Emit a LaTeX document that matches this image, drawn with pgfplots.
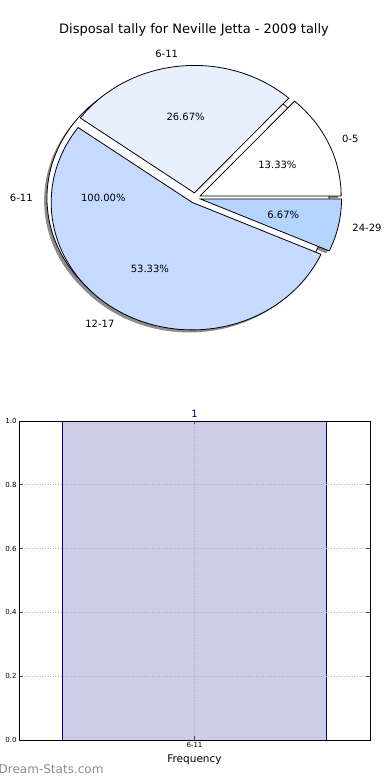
\documentclass[border=0pt]{standalone}
\usepackage{pgfplots}
\pgfplotsset{compat=1.18}
\usepackage{fontspec}
\setmainfont{DejaVu Sans}
\definecolor{cA}{RGB}{255,255,255}
\definecolor{cB}{RGB}{232,240,254}
\definecolor{cC}{RGB}{198,217,255}
\definecolor{cD}{RGB}{179,212,255}
\definecolor{navy}{RGB}{0,0,128}
\definecolor{shadowc}{RGB}{140,140,140}
\definecolor{wmark}{RGB}{140,140,140}
% pie values (percent)
\def\vA{13.33}\def\vB{26.67}\def\vC{53.33}\def\vD{6.67}
\def\vBig{100}
\pgfmathsetmacro\aO{0}
\pgfmathsetmacro\aA{3.6*\vA}
\pgfmathsetmacro\aB{\aA+3.6*\vB}
\pgfmathsetmacro\aC{\aB+3.6*\vC}
\pgfmathsetmacro\aD{\aC+3.6*\vD}
\def\ex{0.04}
\newcommand\pieshadow[3]{%
  \fill[shadowc] ({#3*cos((#1+#2)/2)-0.02},{#3*sin((#1+#2)/2)-0.02}) -- plot[domain=#1:#2,samples=90,variable=\t] ({#3*cos((#1+#2)/2)+cos(\t)-0.02},{#3*sin((#1+#2)/2)+sin(\t)-0.02}) -- cycle;}
\newcommand\pieslice[4]{%
  \filldraw[fill=#4,draw=black,line width=0.8bp,line join=miter] ({#3*cos((#1+#2)/2)},{#3*sin((#1+#2)/2)}) -- plot[domain=#1:#2,samples=90,variable=\t] ({#3*cos((#1+#2)/2)+cos(\t)},{#3*sin((#1+#2)/2)+sin(\t)}) -- cycle;}
\begin{document}
\begin{tikzpicture}
\path[use as bounding box] (0,0) rectangle (390bp,780bp);
% ---------------- pie ----------------
\begin{axis}[at={(0,390bp)},anchor=south west,scale only axis,
  width=390bp,height=390bp,hide axis,clip=false,
  xmin=-1.383,xmax=1.383,ymin=-1.506,ymax=1.553,
  font=\fontsize{10bp}{12bp}\selectfont]
% shadows
\fill[shadowc] plot[domain=0:360,samples=180,variable=\t] ({-0.05+cos(\t)-0.02},{sin(\t)-0.02}) -- cycle;
\pieshadow{\aO}{\aA}{\ex}
\pieshadow{\aA}{\aB}{\ex}
\pieshadow{\aB}{\aC}{\ex}
\pieshadow{\aC}{\aD}{\ex}
% 100% pie
\filldraw[fill=cA,draw=black,line width=0.8bp] plot[domain=0:360,samples=180,variable=\t] ({-0.05+cos(\t)},{sin(\t)}) -- cycle;
% main pie
\pieslice{\aO}{\aA}{\ex}{cA}
\pieslice{\aA}{\aB}{\ex}{cB}
\pieslice{\aB}{\aC}{\ex}{cC}
\pieslice{\aC}{\aD}{\ex}{cD}
% labels
\node[anchor=east,inner sep=0pt] at (-1.15,0) {6-11};
\node at (-0.65,0) {100.00\%};
\node[anchor=west,inner sep=0pt] at ({(1.1+\ex)*cos((\aO+\aA)/2)},{(1.1+\ex)*sin((\aO+\aA)/2)}) {0-5};
\node at ({(0.6+\ex)*cos((\aO+\aA)/2)},{(0.6+\ex)*sin((\aO+\aA)/2)}) {13.33\%};
\node[anchor=east,inner sep=0pt] at ({(1.1+\ex)*cos((\aA+\aB)/2)},{(1.1+\ex)*sin((\aA+\aB)/2)}) {6-11};
\node at ({(0.6+\ex)*cos((\aA+\aB)/2)},{(0.6+\ex)*sin((\aA+\aB)/2)}) {26.67\%};
\node[anchor=east,inner sep=0pt] at ({(1.1+\ex)*cos((\aB+\aC)/2)},{(1.1+\ex)*sin((\aB+\aC)/2)}) {12-17};
\node at ({(0.6+\ex)*cos((\aB+\aC)/2)},{(0.6+\ex)*sin((\aB+\aC)/2)}) {53.33\%};
\node[anchor=west,inner sep=0pt] at ({(1.1+\ex)*cos((\aC+\aD)/2)},{(1.1+\ex)*sin((\aC+\aD)/2)}) {24-29};
\node at ({(0.6+\ex)*cos((\aC+\aD)/2)},{(0.6+\ex)*sin((\aC+\aD)/2)}) {6.67\%};
\node[font=\fontsize{13bp}{15bp}\selectfont] at (-0.007,1.318) {Disposal tally for Neville Jetta - 2009 tally};
\end{axis}
% ---------------- bar ----------------
\begin{axis}[at={(19bp,40bp)},anchor=south west,scale only axis,
  width=351bp,height=319bp,
  xmin=-0.665,xmax=0.665,ymin=0,ymax=1,
  xtick={0},xticklabels={6-11},
  ytick={0,0.2,0.4,0.6,0.8,1.0},
  yticklabel style={/pgf/number format/fixed,/pgf/number format/fixed zerofill,/pgf/number format/precision=1,xshift=1bp},
  /pgf/number format/assume math mode=true,
  ticklabel style={font=\fontsize{7bp}{8bp}\selectfont},
  xticklabel style={yshift=1bp},
  tick align=inside,major tick length=3.5bp,
  tick style={black!70,line width=0.6bp},
  axis line style={black,line width=0.8bp},
  grid=major,grid style={dash pattern=on 1bp off 1.6bp,gray!60,line width=0.7bp},
  axis on top,
  xlabel={Frequency},
  xlabel style={font=\fontsize{10.5bp}{12bp}\selectfont,at={(rel axis cs:0.5,0)},anchor=center,yshift=-20bp},
]
\addplot[ybar,bar width=1,fill=navy!20,draw=navy,line width=0.8bp,
  nodes near coords,
  nodes near coords style={font=\fontsize{10bp}{12bp}\selectfont,text=navy,anchor=south},
  point meta=explicit symbolic] coordinates {(0,1) [1]};
\end{axis}
\node[anchor=west,text=wmark,font=\fontsize{12bp}{14bp}\selectfont,inner sep=0pt] at (-1.5bp,10.5bp) {Dream-Stats.com};
\end{tikzpicture}
\end{document}
